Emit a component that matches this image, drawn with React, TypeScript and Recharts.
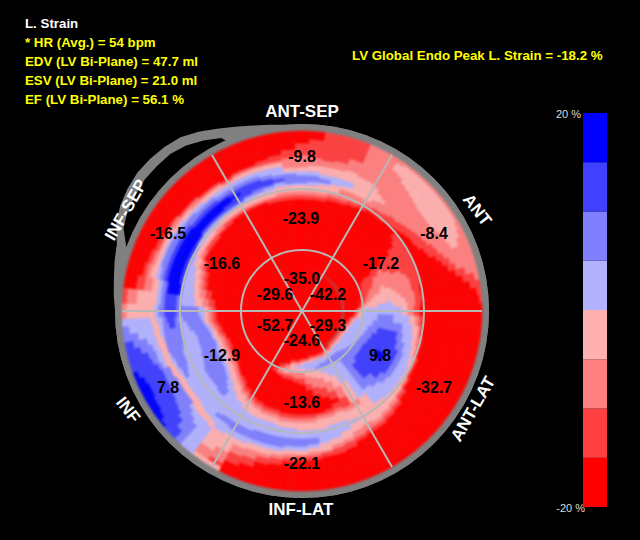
import { CSSProperties } from "react";
import {
  Bar,
  BarChart,
  Cell,
  Pie,
  PieChart,
  PolarAngleAxis,
  PolarGrid,
  PolarRadiusAxis,
  Radar,
  RadarChart,
  XAxis,
  YAxis,
} from "recharts";

// colour bands, from -20 % up to 20 %
const bandColors = ["#ff0000", "#ff4040", "#ff8080", "#ffb0b0", "#b2b2ff", "#8080ff", "#4040ff", "#0000ff"];
const legendSteps = [5, 5, 5, 5, 5, 5, 5, 5];

// wedge widths in degrees, clockwise from the top; finer where the contours move fast
const wedgeSpans = [
  ...Array(6).fill(5),
  ...Array(24).fill(2.5),
  ...Array(26).fill(5),
  ...Array(20).fill(2.5),
  ...Array(18).fill(5),
];

// one row per wedge: band, radius where that band ends, band, ...
const wedgeProfiles = [
  [0,112,1,116,2,119,3,125,4,128,5,136,4,139,3,144,2,156,1,168,0,180],
  [0,112,1,116,2,119,3,126,4,129,5,135,4,139,3,145,2,153,1,172,0,180],
  [0,112,1,116,2,120,3,127,4,130,5,134,4,138,3,145,2,152,1,180],
  [0,113,1,117,2,122,3,130,4,137,3,146,2,154,1,180],
  [0,114,1,118,2,128,3,132,4,138,3,147,2,160,1,180],
  [0,116,1,120,2,128,3,146,2,180],
  // upper right, 2.5 degree rows
  [0,118,1,122,2,128,3,146,2,180],
  [0,118,1,122,2,128,3,144,2,180],
  [0,119,1,124,2,131,3,140,2,168,3,176,2,180],
  [0,120,1,125,2,133,3,137,2,165,3,178,2,180],
  [0,120,1,126,2,162,3,178,2,180],
  [0,120,1,127,2,160,3,178,2,180],
  [0,121,1,129,2,157,3,178,2,180],
  [0,122,1,130,2,155,3,178,2,180],
  [0,123,1,132,2,154,3,178,2,180],
  [0,116,1,122,0,125,1,134,2,153,3,178,2,180],
  [0,112,1,122,0,127,1,135,2,153,3,178,2,180],
  [0,104,1,122,0,129,1,137,2,153,3,178,2,180],
  [0,92,1,122,0,130,1,139,2,155,3,177,2,180],
  [0,78,1,122,0,132,1,141,2,157,3,176,2,180],
  [0,68,1,84,2,90,1,122,0,135,1,145,2,159,3,174,2,180],
  [0,64,1,78,2,96,1,122,0,138,1,147,2,162,3,170,2,180],
  [0,63,1,76,2,106,1,122,0,143,1,151,2,180],
  [0,62,1,74,2,110,1,122,0,147,1,155,2,180],
  [0,61,1,70,2,82,3,86,2,111,1,122,0,151,1,160,2,180],
  [0,61,1,67,2,80,3,92,2,112,1,122,0,157,1,167,2,180],
  [0,60,1,65,2,74,3,96,2,112,1,120,0,164,1,175,2,180],
  [0,60,1,63,2,70,3,99,2,113,1,120,0,170,1,179,2,180],
  [0,58,1,61,2,65,3,86,4,88,3,103,2,114,1,121,0,175,1,180],
  [0,57,1,59,2,62,3,76,4,92,3,105,2,114,1,120,0,178,1,180],
  // lower right and bottom
  [0,54,1,56,2,58,3,62,4,100,3,106,2,112,1,118,0,180],
  [0,52,1,54,2,56,3,60,4,76,5,92,4,108,3,114,2,118,1,122,0,180],
  [0,48,1,50,2,52,3,54,4,72,5,102,4,112,3,117,2,120,1,122,0,180],
  [0,46,1,48,2,50,3,52,4,68,5,78,6,97,5,104,4,114,3,118,2,121,1,123,0,180],
  [0,44,1,46,2,48,3,50,4,66,5,74,6,100,5,107,4,116,3,120,2,122,1,124,0,180],
  [0,43,1,45,2,47,3,49,4,64,5,72,6,103,5,109,4,118,3,121,2,123,1,125,0,180],
  [0,42,1,44,2,46,3,48,4,62,5,70,6,84,7,94,6,104,5,110,4,119,3,122,2,124,1,126,0,180],
  [0,41,1,43,2,45,3,47,4,60,5,69,6,103,5,109,4,120,3,124,2,126,1,128,0,180],
  [0,41,1,43,2,45,3,47,4,58,5,70,6,100,5,108,4,120,3,125,2,128,1,131,0,180],
  [0,41,1,43,2,45,3,47,4,55,5,74,6,92,5,104,4,119,3,128,2,131,1,135,0,180],
  [0,42,1,44,2,46,3,48,4,54,5,100,4,118,3,130,2,134,1,138,0,180],
  [0,43,1,45,2,47,3,49,4,53,5,61,4,104,3,132,2,136,1,140,0,180],
  [0,44,1,46,2,48,3,50,4,53,5,60,4,82,3,104,2,109,3,130,2,136,1,140,0,180],
  [0,45,1,47,2,49,3,51,4,55,5,60,4,72,3,84,2,96,1,106,2,110,3,120,4,124,3,132,2,138,1,142,0,180],
  [0,46,1,48,2,49,3,50,4,56,5,60,4,66,3,76,2,86,1,94,0,98,1,103,2,108,3,117,4,128,3,136,2,140,1,145,0,180],
  [0,46,1,48,2,49,3,51,4,57,5,59,4,62,3,70,2,80,1,89,0,102,1,106,2,110,3,118,4,132,3,138,2,142,1,147,0,180],
  [0,46,1,48,2,49,3,51,4,60,3,68,2,78,1,85,0,103,1,106,2,110,3,119,4,134,3,141,2,144,1,148,0,180],
  [0,47,1,49,2,50,3,52,4,59,3,65,2,73,1,80,0,103,1,107,2,111,3,119,4,128,5,133,4,138,3,142,2,145,1,149,0,180],
  [0,47,1,49,2,51,3,53,4,58,3,62,2,68,1,74,0,103,1,107,2,111,3,119,4,128,5,136,4,140,3,143,2,146,1,149,0,180],
  [0,49,1,51,2,53,3,55,4,58,3,62,2,67,1,72,0,103,1,107,2,111,3,118,4,128,5,136,4,140,3,144,2,148,1,152,0,180],
  [0,50,1,52,2,54,3,61,2,65,1,70,0,103,1,107,2,111,3,118,4,128,5,137,4,141,3,145,2,150,1,155,0,180],
  [0,53,1,56,2,60,3,63,2,65,1,70,0,101,1,105,2,109,3,116,4,128,5,137,4,142,3,147,2,152,1,158,0,180],
  [0,56,1,60,2,65,1,68,0,101,1,105,2,109,3,116,4,128,5,137,4,142,3,148,2,155,1,163,0,180],
  [0,62,1,66,0,100,1,104,2,108,3,115,4,129,5,137,4,143,3,150,2,158,1,168,0,180],
  [0,98,1,102,2,106,3,114,4,130,5,137,4,143,3,160,2,172,1,176,3,180],
  [0,93,1,97,2,101,3,109,4,130,5,136,4,145,3,165,2,176,3,180],
  // lower left, 2.5 degree rows
  [0,89,1,93,2,98,3,105,4,131,5,135,4,141,3,147,4,180],
  [0,88,1,91,2,96,3,103,4,140,3,146,4,180],
  [0,87,1,90,2,94,3,100,4,108,5,115,4,139,3,146,4,156,5,180],
  [0,85,1,88,2,92,3,98,4,104,5,115,4,138,3,145,4,152,5,170,6,180],
  [0,83,1,86,2,90,3,95,4,100,5,114,4,136,3,143,4,147,5,162,6,180],
  [0,81,1,84,2,88,3,93,4,98,5,113,4,136,3,142,5,158,6,178,7,180],
  [0,80,1,83,2,87,3,92,4,96,5,113,4,135,3,141,5,155,6,173,7,180],
  [0,80,1,83,2,87,3,91,4,95,5,113,4,135,3,141,5,153,6,171,7,180],
  [0,79,1,82,2,86,3,90,4,94,5,113,4,135,3,141,5,152,6,171,7,180],
  [0,79,1,82,2,86,3,90,4,94,5,112,4,130,5,133,4,136,3,142,5,152,6,170,7,180],
  [0,78,1,81,2,85,3,89,4,93,5,110,4,127,5,134,4,137,3,143,5,152,6,170,7,180],
  [0,78,1,81,2,85,3,89,4,93,5,110,4,126,5,135,4,138,3,144,5,152,6,172,7,180],
  [0,78,1,81,2,85,3,89,4,92,5,108,4,125,5,136,4,139,3,145,4,149,5,154,6,176,7,180],
  [0,79,1,82,2,86,3,90,4,92,5,108,4,125,5,137,4,140,3,146,4,151,5,157,6,180],
  [0,80,1,83,2,87,3,91,4,93,5,107,4,123,5,139,3,146,4,152,5,159,6,180],
  [0,81,1,85,2,88,3,92,4,94,5,108,4,122,5,140,3,147,4,154,5,165,6,180],
  [0,82,1,86,2,89,3,92,4,96,5,110,4,122,5,140,4,142,3,148,4,157,5,172,6,180],
  [0,84,1,88,2,91,3,94,4,98,5,113,4,122,5,140,4,143,3,149,4,165,5,180],
  [0,85,1,89,2,93,3,97,4,99,5,116,4,122,5,128,6,134,5,140,4,144,3,150,4,174,5,180],
  [0,86,1,90,2,94,3,98,4,101,5,120,4,123,5,127,6,136,5,140,4,145,3,151,4,180],
  // upper left
  [0,86,1,90,2,94,3,98,4,103,5,126,6,138,5,143,4,147,3,176,2,180],
  [0,88,1,93,2,100,3,108,4,122,5,125,6,137,5,141,4,146,3,165,2,176,1,180],
  [0,92,1,97,2,103,3,110,4,122,6,124,7,135,6,138,5,142,4,146,3,152,2,160,1,168,0,180],
  [0,97,1,101,2,106,3,112,4,122,6,125,7,137,6,141,5,146,4,150,3,155,2,159,1,163,0,180],
  [0,100,1,104,2,108,3,114,4,122,6,125,7,138,6,142,5,147,4,150,3,154,2,158,1,161,0,180],
  [0,104,1,108,2,112,3,117,4,122,6,125,7,138,6,142,5,147,4,150,3,153,2,156,1,159,0,180],
  [0,109,1,112,2,115,3,119,4,122,6,125,7,137,6,141,5,147,4,150,3,153,2,156,1,158,0,180],
  [0,110,1,113,2,116,3,119,4,123,6,125,7,137,6,141,5,146,4,149,3,152,2,155,1,157,0,180],
  [0,110,1,113,2,116,3,120,4,123,5,125,6,127,7,136,6,140,5,145,4,148,3,151,2,154,1,156,0,180],
  [0,111,1,114,2,117,3,120,4,123,5,125,6,128,7,136,6,140,5,144,4,147,3,150,2,153,1,155,0,180],
  [0,112,1,115,2,118,3,121,4,123,5,125,6,128,7,135,6,139,5,143,4,146,3,149,2,152,1,154,0,180],
  [0,113,1,116,2,118,3,122,4,124,5,126,6,129,7,135,6,138,5,142,4,146,3,149,2,151,1,153,0,180],
  [0,113,1,116,2,118,3,122,4,124,5,126,6,131,7,134,6,137,5,141,4,145,3,148,2,150,1,152,0,180],
  [0,113,1,116,2,118,3,122,4,125,5,128,6,137,5,142,4,146,3,149,2,151,1,154,0,180],
  [0,113,1,116,2,118,3,123,4,126,5,130,6,137,5,142,4,146,3,149,2,151,1,154,0,180],
  [0,112,1,116,2,118,3,124,4,127,5,130,6,136,5,140,4,145,3,149,2,152,1,156,0,180],
  [0,112,1,116,2,119,3,125,4,129,5,131,6,134,5,138,4,145,3,149,2,152,1,157,0,180],
  [0,112,1,116,2,119,3,125,4,128,5,137,4,140,3,144,2,154,1,162,0,180],
];

// grey frame with the bulge on the upper left, one value per 5 degrees
const frameOuter = [
  187,187,187,187,187,187,187,187,187,187,187,187,187,187,187,187,187,187,
  187,187,187,187,187,187,187,187,187,187,187,187,187,187,187,187,187,187,
  187,187,187,187,187,187,187,187,187,187,187,187,187,187,187,187,187,187,
  187,189,191,194,197,205,210,213,215,215,214,212,207,201,196,192,189,187,
];
const gapOuter = [
  170,170,170,170,170,170,170,170,170,170,170,170,170,170,170,170,170,170,
  170,170,170,170,170,170,170,170,170,170,170,170,170,170,170,170,170,170,
  170,170,170,170,170,170,170,170,170,170,170,170,170,170,170,170,170,170,
  170,170,170,170,187,197,201,203,205,205,205,202,197,191,170,170,170,170,
];
const FRAME_RING = 187;

const segmentValues = ["-9.8","-23.9","-8.4","-16.5","-16.6","-17.2","-35.0","-29.6","-42.2","-52.7","-29.3","-24.6","-12.9","9.8","7.8","-32.7","-13.6","-22.1"];
const segmentX = [302,301,434,168,222,381,302,275,328,275,328,302,222,380,168,434,302,302];
const segmentY = [156,218,233,233,263,263,278,294,294,325,325,340,355,355,387,387,402,463];

const wallLabels = ["ANT-SEP","ANT","ANT-LAT","INF-LAT","INF","INF-SEP"];
const wallX = [302,477,473,301,128,126];
const wallY = [111,210,409,509,410,210];
const wallTilt = [0,52,-60,0,52,-60];

const infoLines = ["* HR (Avg.) = 54 bpm","EDV (LV Bi-Plane) = 47.7 ml","ESV (LV Bi-Plane) = 21.0 ml","EF (LV Bi-Plane) = 56.1 %"];

const WIDTH = 640;
const HEIGHT = 540;
const CX = 302;
const CY = 311;
const RING_STEP = 2;
const FRAME_STEP = 5;
const START_OFFSET = 2.5;

const frameData = frameOuter.map((outer, i) => ({
  angle: i * FRAME_STEP,
  outer,
  gap: gapOuter[i],
  ring: FRAME_RING,
}));

function bandAt(profile: number[], radius: number) {
  for (let i = 0; i < profile.length; i += 2) {
    if (radius <= profile[i + 1]) return profile[i];
  }
  return profile[profile.length - 2];
}

// one ring of the map: neighbouring wedges with the same band become one slice
function ringSlices(radius: number) {
  const slices: { band: number; span: number }[] = [];
  wedgeProfiles.forEach((profile, i) => {
    const band = bandAt(profile, radius);
    const last = slices[slices.length - 1];
    if (last && last.band === band) last.span += wedgeSpans[i];
    else slices.push({ band, span: wedgeSpans[i] });
  });
  return slices;
}

const rings: number[] = [];
for (let r = 0; r < 180; r += RING_STEP) rings.push(r);

const legendRow = [Object.fromEntries(legendSteps.map((v, i) => [`b${i}`, v]))];

const layer: CSSProperties = { position: "absolute", left: 0, top: 0 };

export default function App() {
  return (
    <div
      style={{
        ...layer,
        width: WIDTH,
        height: HEIGHT,
        background: "#000",
        overflow: "hidden",
        fontFamily: "'Liberation Sans', Arial, sans-serif",
      }}
    >
      {/* frame */}
      <div style={layer}>
        <RadarChart
          width={WIDTH}
          height={HEIGHT}
          data={frameData}
          cx={CX}
          cy={CY}
          outerRadius={230}
          startAngle={90}
          endAngle={-270}
          margin={{ top: 0, right: 0, bottom: 0, left: 0 }}
        >
          <PolarAngleAxis dataKey="angle" tick={false} axisLine={false} tickLine={false} />
          <PolarRadiusAxis type="number" domain={[0, 230]} tick={false} axisLine={false} tickLine={false} />
          <Radar dataKey="outer" fill="#808080" fillOpacity={1} stroke="none" isAnimationActive={false} />
          <Radar dataKey="gap" fill="#000" fillOpacity={1} stroke="none" isAnimationActive={false} />
          <Radar dataKey="ring" fill="#808080" fillOpacity={1} stroke="none" isAnimationActive={false} />
        </RadarChart>
      </div>

      {/* strain map */}
      <div style={{ ...layer, filter: "blur(0.8px)" }}>
        <PieChart width={WIDTH} height={HEIGHT} margin={{ top: 0, right: 0, bottom: 0, left: 0 }}>
          {rings.map((r) => (
            <Pie
              key={r}
              data={ringSlices(r + RING_STEP / 2)}
              dataKey="span"
              cx={CX}
              cy={CY}
              innerRadius={r}
              outerRadius={r + RING_STEP}
              startAngle={90 + START_OFFSET}
              endAngle={-270 + START_OFFSET}
              paddingAngle={0}
              isAnimationActive={false}
            >
              {ringSlices(r + RING_STEP / 2).map((s, i) => (
                <Cell key={i} fill={bandColors[s.band]} stroke={bandColors[s.band]} strokeWidth={0.5} />
              ))}
            </Pie>
          ))}
        </PieChart>
      </div>

      {/* segment lines */}
      <div style={layer}>
        <RadarChart
          width={WIDTH}
          height={HEIGHT}
          data={frameData}
          cx={CX}
          cy={CY}
          outerRadius={180}
          startAngle={90}
          endAngle={-270}
          margin={{ top: 0, right: 0, bottom: 0, left: 0 }}
        >
          <PolarGrid
            gridType="circle"
            cx={CX}
            cy={CY}
            innerRadius={0}
            outerRadius={180}
            polarRadius={[61, 122]}
            polarAngles={[0, 60, 120, 180, 240, 300]}
            stroke="#b8b8b8"
            strokeWidth={2}
          />
        </RadarChart>
      </div>

      {/* colour scale */}
      <div style={{ ...layer, left: 583, top: 113 }}>
        <BarChart
          width={24}
          height={394}
          data={legendRow}
          barCategoryGap={0}
          margin={{ top: 0, right: 0, bottom: 0, left: 0 }}
        >
          <XAxis hide />
          <YAxis hide domain={[0, 40]} />
          {legendSteps.map((_, i) => (
            <Bar key={i} dataKey={`b${i}`} stackId="scale" fill={bandColors[i]} isAnimationActive={false} />
          ))}
        </BarChart>
      </div>

      {/* texts */}
      <svg width={WIDTH} height={HEIGHT} style={layer}>
        <text x={25} y={28} fill="#fff" fontSize={13.3} fontWeight="bold">L. Strain</text>
        {infoLines.map((line, i) => (
          <text key={line} x={25} y={47 + i * 19} fill="#ffff00" fontSize={13.3} fontWeight="bold">{line}</text>
        ))}
        <text x={352} y={60} fill="#ffff00" fontSize={13.3} fontWeight="bold">LV Global Endo Peak L. Strain = -18.2 %</text>
        <text x={581} y={118} fill="#ddd" fontSize={11} textAnchor="end">20 %</text>
        <text x={585} y={512} fill="#ddd" fontSize={11} textAnchor="end">-20 %</text>
        {wallLabels.map((label, i) => (
          <text
            key={label}
            x={wallX[i]}
            y={wallY[i]}
            fill="#fff"
            fontSize={17}
            fontWeight="bold"
            textAnchor="middle"
            dominantBaseline="central"
            transform={`rotate(${wallTilt[i]} ${wallX[i]} ${wallY[i]})`}
          >
            {label}
          </text>
        ))}
        {segmentValues.map((value, i) => (
          <text
            key={i}
            x={segmentX[i]}
            y={segmentY[i]}
            fill="#000"
            fontSize={16}
            fontWeight="bold"
            textAnchor="middle"
            dominantBaseline="central"
          >
            {value}
          </text>
        ))}
      </svg>
    </div>
  );
}
